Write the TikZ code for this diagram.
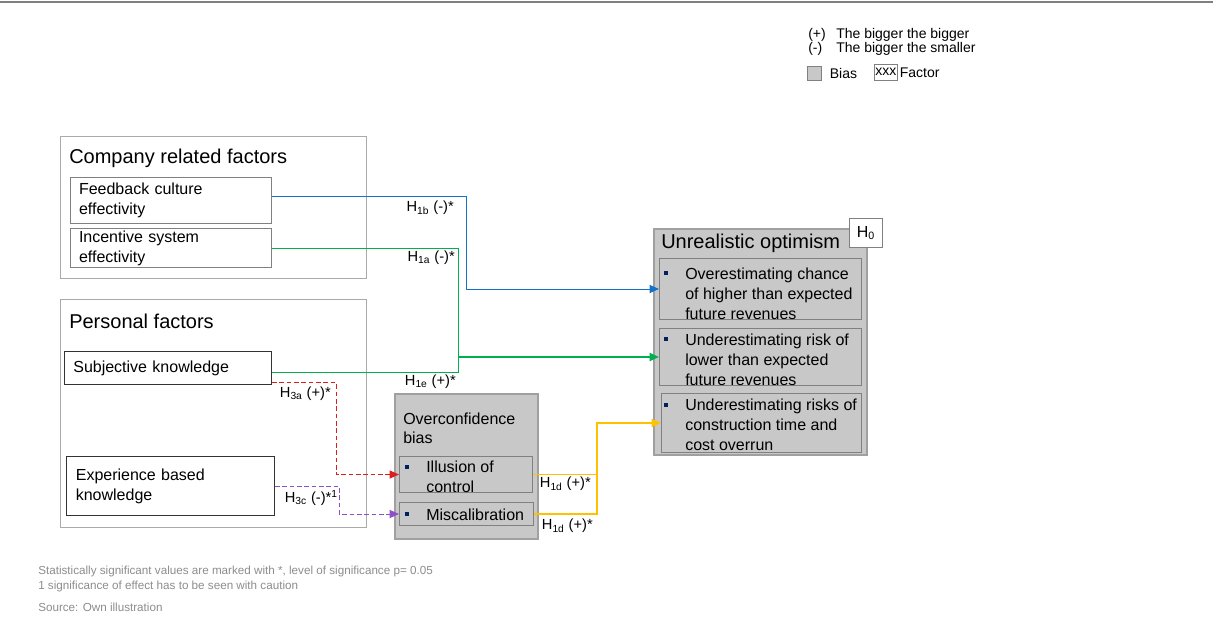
\documentclass[tikz,border=0pt]{standalone}
\usepackage{fontspec}
\setmainfont{Liberation Sans}
\usetikzlibrary{arrows.meta, positioning}
\definecolor{biasfill}{RGB}{200,200,200}
\definecolor{biasline}{RGB}{160,160,160}
\definecolor{grpline}{RGB}{170,170,170}
\definecolor{notegray}{RGB}{140,140,140}
\definecolor{hblue}{RGB}{20,115,200}
\definecolor{hgreen}{RGB}{0,176,80}
\definecolor{hyellow}{RGB}{255,192,0}
\definecolor{hred}{RGB}{220,30,30}
\definecolor{hpurple}{RGB}{140,80,200}
\definecolor{bulletblue}{RGB}{0,32,96}

\begin{document}
\begin{tikzpicture}[x=0.75pt,y=-0.75pt,
	every node/.style={inner sep=0pt, font=\fontsize{12}{15}\selectfont},
	group/.style={draw=grpline, line width=0.75pt, anchor=north west},
	factor/.style={draw=gray, line width=0.75pt, anchor=north west, align=left, inner xsep=6pt},
	bias/.style={draw=biasline, fill=biasfill, line width=1.5pt, anchor=north west},
	item/.style={draw=gray, fill=biasfill, line width=0.75pt, anchor=north west},
	sq/.style={fill=bulletblue, minimum size=3pt},
	hyp/.style={font=\fontsize{11}{13}\selectfont, anchor=east},
	hyparrow/.style={-{Triangle[length=7pt,width=6pt]}},
	dashline/.style={dash pattern=on 3.5pt off 2pt},
	note/.style={font=\fontsize{8.75}{10}\selectfont, text=notegray, anchor=west}]
	\useasboundingbox (0,0) rectangle (1213,623);
	\draw[gray, line width=1.5pt] (0,2) -- (1213,2);

	% legend
	\node[anchor=west, font=\fontsize{10.5}{12}\selectfont] (legplus) at (808,35) {\makebox[21pt][l]{(+)}The bigger the bigger};
	\node[anchor=west, font=\fontsize{10.5}{12}\selectfont] (legminus) at (808,49) {\makebox[21pt][l]{(-)}The bigger the smaller};
	\node[draw=gray, fill=biasfill, minimum size=10.5pt, anchor=north west] (legbias) at (807,66) {};
	\node[right=6pt of legbias, font=\fontsize{10.5}{12}\selectfont] (legbiastxt) {Bias};
	\node[draw=gray, anchor=north west, minimum width=17.25pt, minimum height=12pt, font=\fontsize{10.5}{12}\selectfont] (legfactor) at (874,64) {xxx};
	\node[right=1.5pt of legfactor, font=\fontsize{10.5}{12}\selectfont] (legfactortxt) {Factor};

	% factors
	\node[group, minimum width=229.5pt, minimum height=106.5pt] (comp) at (60,136) {};
	\node[anchor=base west, font=\fontsize{15}{18}\selectfont] (comptitle) at (69,164) {Company related factors};
	\node[factor, minimum width=150.75pt, minimum height=34.5pt, text width=138pt] (feedback) at (70,177) {Feedback culture\\effectivity};
	\node[factor, minimum width=150.75pt, minimum height=29.25pt, text width=138pt] (incentive) at (70,228) {Incentive system\\effectivity};

	\node[group, minimum width=229.5pt, minimum height=171pt] (pers) at (60,299) {};
	\node[anchor=base west, font=\fontsize{15}{18}\selectfont] (perstitle) at (69,329) {Personal factors};
	\node[factor, draw=black!80, minimum width=155.25pt, minimum height=24.75pt, text width=142pt] (subj) at (64,351) {Subjective knowledge};
	\node[factor, draw=black!80, minimum width=155.25pt, minimum height=44.25pt, text width=142pt, inner xsep=7pt] (exper) at (66,456) {Experience based\\knowledge};

	% biases
	\node[bias, minimum width=107.25pt, minimum height=108.75pt] (ocb) at (394,393) {};
	\node[below right=15pt and 6.75pt of ocb.north west, align=left, font=\fontsize{12}{14}\selectfont] (ocbtitle) {Overconfidence\\bias};
	\node[item, minimum width=99.75pt, minimum height=27pt] (illu) at (399,456) {};
	\node[sq, below right=6.4pt and 4.1pt of illu.north west] (illusq) {};
	\node[below right=3.75pt and 20.25pt of illu.north west, align=left, font=\fontsize{12}{14.5}\selectfont] (illutxt) {Illusion of\\control};
	\node[item, minimum width=100.5pt, minimum height=17.25pt] (misc) at (399,502) {};
	\node[sq, below right=7.1pt and 4.1pt of misc.north west] (miscsq) {};
	\node[below right=5.25pt and 20.25pt of misc.north west] (misctxt) {Miscalibration};

	\node[bias, minimum width=159.75pt, minimum height=169.5pt] (uo) at (653,228) {};
	\node[anchor=base west, font=\fontsize{15}{18}\selectfont] (uotitle) at (661,249) {Unrealistic optimism};
	\node[draw=gray, fill=white, line width=0.75pt, anchor=north west, minimum width=24.75pt, minimum height=21.75pt] (h0) at (849,218) {H\textsubscript{0}};
	\node[item, minimum width=151.5pt, minimum height=45.75pt] (uo1) at (659,258) {};
	\node[sq, below right=9.4pt and 3.4pt of uo1.north west] (uo1sq) {};
	\node[below right=7.5pt and 19.5pt of uo1.north west, align=left] (uo1txt) {Overestimating chance\\of higher than expected\\future revenues};
	\node[item, minimum width=151.5pt, minimum height=42.75pt] (uo2) at (659,328) {};
	\node[sq, below right=6.4pt and 3.4pt of uo2.north west] (uo2sq) {};
	\node[below right=4.5pt and 19.5pt of uo2.north west, align=left] (uo2txt) {Underestimating risk of\\lower than expected\\future revenues};
	\node[item, minimum width=150pt, minimum height=44.25pt] (uo3) at (661,393) {};
	\node[sq, below right=7.1pt and 1.9pt of uo3.north west] (uo3sq) {};
	\node[below right=4.5pt and 18pt of uo3.north west, align=left] (uo3txt) {Underestimating risks of\\construction time and\\cost overrun};

	% hypotheses
	\draw[hblue, hyparrow, line width=0.7pt] ([yshift=3pt]feedback.east) -- ++(194,0) |- (uo1.west);
	\draw[hgreen, line width=0.7pt] (incentive.east) -- ++(186,0) coordinate (gknee) |- ([yshift=-3pt]subj.east);
	\draw[hgreen, hyparrow, line width=1.5pt] (gknee |- uo2.west) -- (uo2.west);
	\draw[hred, dashline, hyparrow, line width=0.7pt] ([yshift=2pt]subj.south east) -- ++(64,0) |- (illu.west);
	\draw[hpurple, dashline, hyparrow, line width=0.7pt] (exper.east) -- ++(64,0) |- (misc.west);
	\draw[hyellow, hyparrow, line width=1.1pt] (misc.east) -- ++(63,0) coordinate (yknee) |- (uo3.west);
	\draw[hyellow, line width=1.1pt] (illu.east) -- (illu.east -| yknee);

	\node[hyp] (h1b) at (454,208) {H\textsubscript{1b} (-)*};
	\node[hyp] (h1a) at (455,258) {H\textsubscript{1a} (-)*};
	\node[hyp] (h1e) at (456,382) {H\textsubscript{1e} (+)*};
	\node[hyp] (h3a) at (331,394) {H\textsubscript{3a} (+)*};
	\node[hyp] (h3c) at (338,498) {H\textsubscript{3c} (-)*\textsuperscript{1}};
	\node[hyp] (h1d) at (591,484) {H\textsubscript{1d} (+)*};
	\node[hyp] (h1dm) at (593,526) {H\textsubscript{1d} (+)*};

	% notes
	\node[note] (note1) at (38,571) {Statistically significant values are marked with *, level of significance p= 0.05};
	\node[note] (note2) at (38,586) {1 significance of effect has to be seen with caution};
	\node[note] (source) at (38,607) {Source: Own illustration};
\end{tikzpicture}
\end{document}
